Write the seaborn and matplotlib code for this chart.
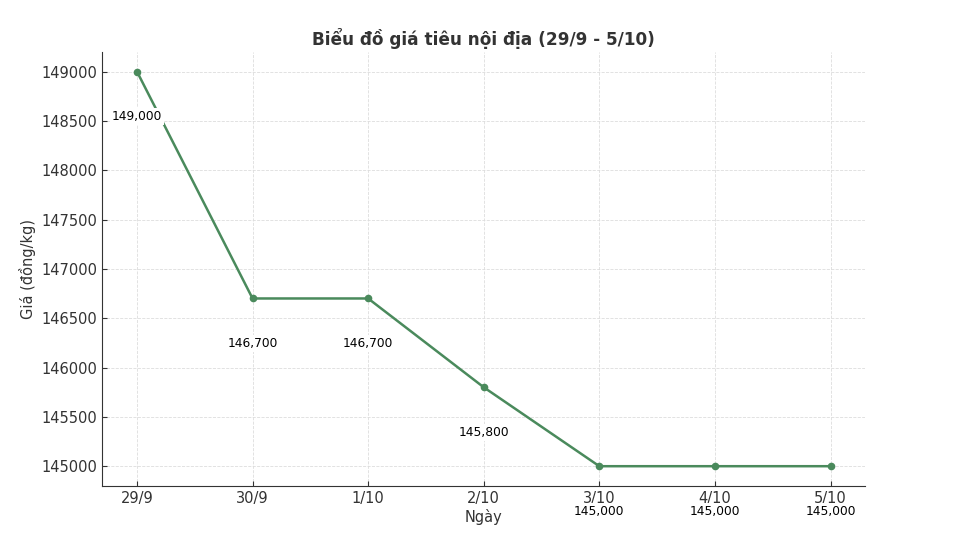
import matplotlib
matplotlib.use("Agg")
import matplotlib.pyplot as plt
import seaborn as sns
import pandas as pd

# Data
dates = ["29/9", "30/9", "1/10", "2/10", "3/10", "4/10", "5/10"]
prices = [149000, 146700, 146700, 145800, 145000, 145000, 145000]

df = pd.DataFrame({"Ngày": dates, "Giá": prices})
df["pos"] = range(len(dates))

sns.set_style("ticks")
plt.rcParams["font.family"] = ["DejaVu Sans"]

fig = plt.figure(figsize=(9.56, 5.34), dpi=100)
ax = fig.add_axes([0.107, 0.090, 0.798, 0.813])

line_color = "#4a8a5c"
sns.lineplot(data=df, x="pos", y="Giá", marker="o", color=line_color,
             linewidth=1.8, markersize=5.5, markeredgewidth=0, ax=ax)

# Value labels under each point
for x, y in zip(df["pos"], df["Giá"]):
    ax.annotate(f"{y:,}", (x, y), xytext=(0, -45), textcoords="offset pixels",
                ha="center", va="center", fontsize=8.8, color="black",
                bbox=dict(boxstyle="square,pad=0.15", fc="white", ec="none"),
                annotation_clip=False)

ax.set_xticks(df["pos"])
ax.set_xticklabels(dates)
ax.grid(True, linestyle="--", linewidth=0.6, color="#dddddd")
ax.set_axisbelow(True)
sns.despine(ax=ax)
for s in ["left", "bottom"]:
    ax.spines[s].set_color("#333333")
ax.tick_params(colors="#333333", labelsize=10.5, length=3.5, pad=3.5,
               direction="in")
ax.ticklabel_format(axis="y", style="plain", useOffset=False)

ax.set_xlabel("Ngày", fontsize=10.5, color="#333333", labelpad=2)
ax.set_ylabel("Giá (đồng/kg)", fontsize=10.5, color="#333333", labelpad=4)
ax.set_title("Biểu đồ giá tiêu nội địa (29/9 - 5/10)", fontsize=12.2,
             fontweight="bold", color="#333333", pad=5)

fig.savefig("out.png", dpi=100)
